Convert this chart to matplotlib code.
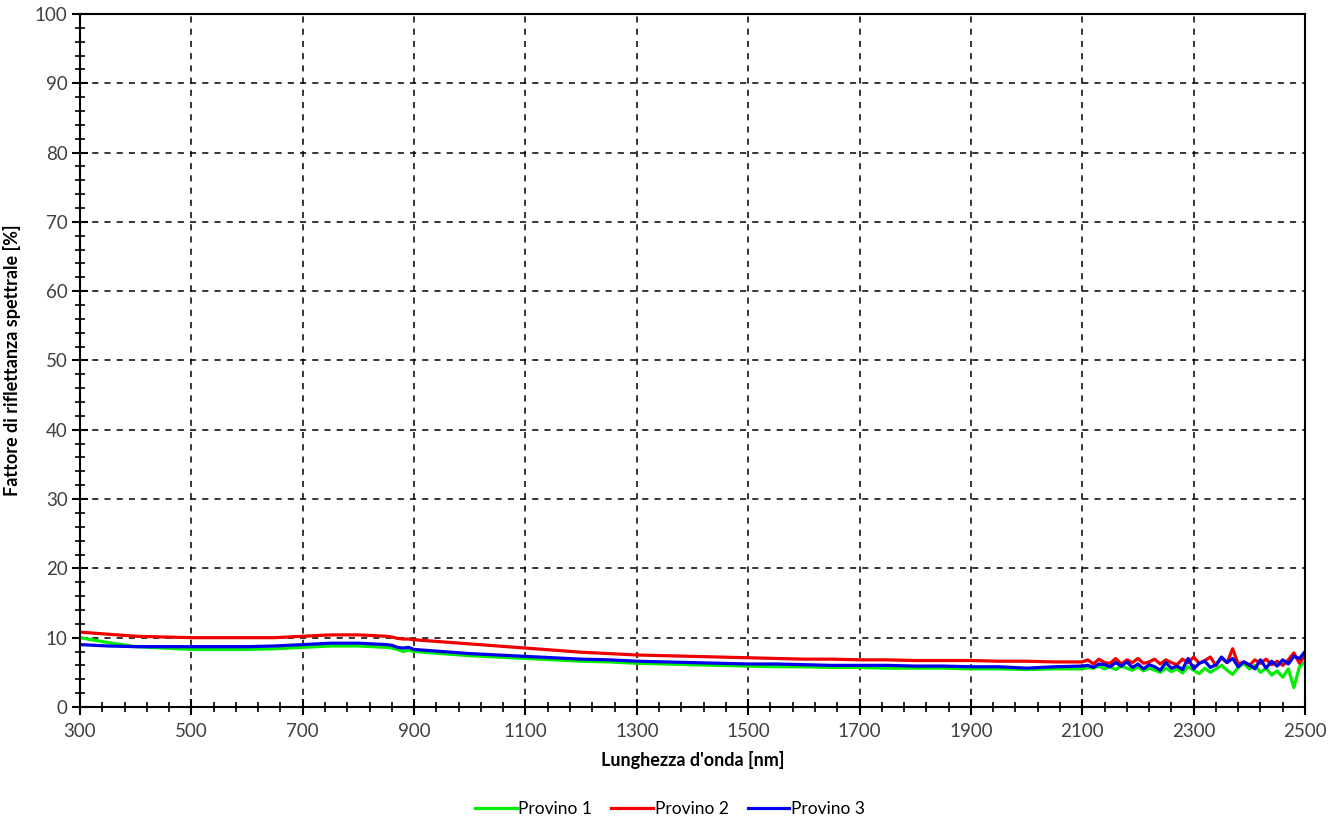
import matplotlib.pyplot as plt
import numpy as np
from matplotlib.ticker import MultipleLocator

# wavelength grid [nm]
wl = np.concatenate([np.arange(300, 851, 50), np.arange(860, 901, 10),
                     np.arange(950, 2101, 50), np.arange(2110, 2501, 10)])

provino1 = [10.0, 9.3, 8.7, 8.5, 8.3, 8.3, 8.3, 8.4, 8.6, 8.8, 8.8, 8.6,
            8.5, 8.3, 8.0, 8.2, 8.0,
            7.7, 7.4, 7.2, 7.0, 6.8, 6.6, 6.5, 6.3, 6.2, 6.1, 6.0, 5.9,
            5.8, 5.8, 5.7, 5.7, 5.6, 5.6, 5.6, 5.5, 5.5, 5.4, 5.5, 5.5,
            5.7, 5.6, 5.9, 5.5, 5.8, 5.4, 5.9, 5.6, 5.3, 5.8, 5.2, 5.6, 5.3, 5.0,
            5.6, 5.1, 5.5, 4.9, 5.8, 5.3, 4.8, 5.6, 5.0, 5.5, 6.0, 5.3, 4.7, 5.7,
            6.3, 5.5, 6.0, 5.0, 5.6, 4.6, 5.2, 4.3, 5.5, 2.8, 5.8, 6.5]
provino2 = [10.8, 10.5, 10.2, 10.1, 10.0, 10.0, 10.0, 10.0, 10.2, 10.4, 10.4, 10.2,
            10.1, 9.9, 9.8, 9.8, 9.7,
            9.4, 9.1, 8.8, 8.5, 8.2, 7.9, 7.7, 7.5, 7.4, 7.3, 7.2, 7.1,
            7.0, 6.9, 6.9, 6.8, 6.8, 6.7, 6.7, 6.7, 6.6, 6.6, 6.5, 6.5,
            6.8, 6.2, 6.9, 6.4, 6.3, 7.0, 6.2, 6.8, 6.4, 7.0, 6.3, 6.5, 6.9, 6.2,
            6.8, 6.4, 6.1, 6.9, 6.4, 7.2, 6.3, 6.7, 7.2, 6.0, 7.1, 6.4, 8.4, 6.2,
            6.5, 6.0, 6.8, 6.3, 6.9, 6.1, 6.6, 6.0, 6.8, 7.8, 6.3, 7.5]
provino3 = [9.0, 8.8, 8.7, 8.7, 8.7, 8.7, 8.7, 8.8, 9.0, 9.2, 9.2, 9.0,
            8.9, 8.6, 8.5, 8.6, 8.3,
            8.0, 7.7, 7.5, 7.3, 7.1, 6.9, 6.8, 6.6, 6.5, 6.4, 6.3, 6.2,
            6.2, 6.1, 6.0, 6.0, 6.0, 5.9, 5.9, 5.8, 5.8, 5.6, 5.8, 5.9,
            6.0, 5.7, 6.2, 6.1, 5.8, 6.4, 5.9, 6.5, 5.7, 6.2, 5.5, 6.1, 5.8, 5.3,
            6.4, 5.6, 5.9, 5.4, 7.0, 5.5, 6.3, 6.6, 5.7, 6.1, 7.2, 6.4, 7.0, 5.8,
            6.5, 6.1, 5.5, 6.8, 5.6, 6.6, 5.9, 6.8, 6.2, 7.3, 7.0, 8.0]

plt.rcParams['font.family'] = ['Lato', 'DejaVu Sans']

fig = plt.figure(figsize=(13.4, 8.23), dpi=100)
ax = fig.add_axes([0.0597, 0.141, 0.9142, 0.842])

ax.plot(wl, provino1, color='#00ee00', lw=2.3, label='Provino 1')
ax.plot(wl, provino2, color='#ee0000', lw=2.3, label='Provino 2')
ax.plot(wl, provino3, color='#0000ee', lw=2.3, label='Provino 3')

ax.set_xlim(300, 2500)
ax.set_ylim(0, 100)
ax.xaxis.set_major_locator(MultipleLocator(200, offset=100))
ax.xaxis.set_minor_locator(MultipleLocator(40, offset=20))
ax.yaxis.set_major_locator(MultipleLocator(10))
ax.yaxis.set_minor_locator(MultipleLocator(2))
ax.tick_params(which='major', direction='inout', length=11, width=1.5, labelsize=13.5, colors='black')
ax.tick_params(which='minor', direction='inout', length=7, width=1.2)
ax.tick_params(axis='x', pad=6)
for lab in ax.get_xticklabels() + ax.get_yticklabels():
    lab.set_color('#404040')

ax.grid(which='major', color='black', ls=(0, (4, 4)), lw=1.1)
for s in ax.spines.values():
    s.set_linewidth(1.5)

ax.set_xlabel("Lunghezza d'onda [nm]", fontsize=13, fontweight='bold', labelpad=8)
ax.set_ylabel("Fattore di riflettanza spettrale [%]", fontsize=13, fontweight='bold', labelpad=10)

fig.legend(loc='lower center', bbox_to_anchor=(0.5, -0.012), ncol=3, frameon=False,
           fontsize=12.5, handlelength=2.4, handletextpad=0.1, columnspacing=1.1)

fig.savefig('out.png', dpi=100)
